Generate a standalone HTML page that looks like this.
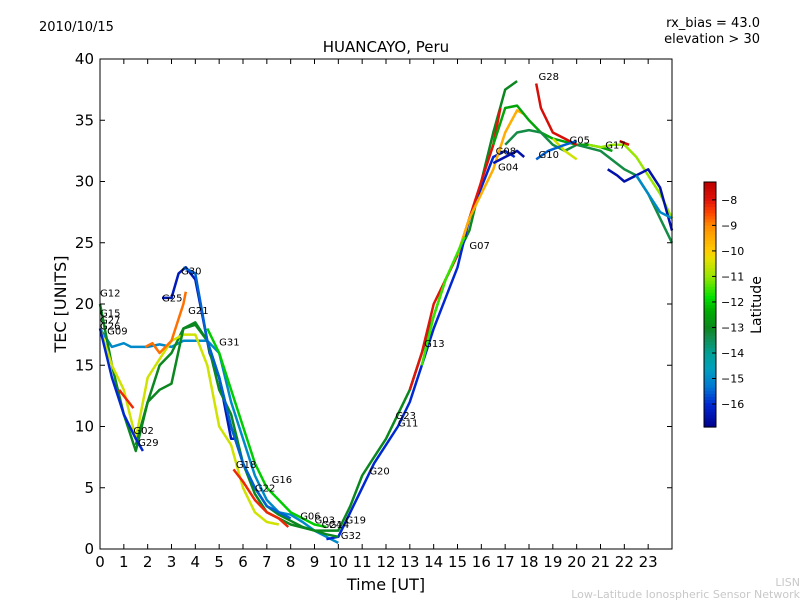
<!DOCTYPE html>
<html><head><meta charset="utf-8">
<style>
html,body{margin:0;padding:0;background:#fff;}
svg text{font-family:"DejaVu Sans","Liberation Sans",sans-serif;}
</style></head>
<body>
<svg id="chart" width="800" height="600" viewBox="0 0 800 600" xmlns="http://www.w3.org/2000/svg">
<rect x="0" y="0" width="800" height="600" fill="#fff"/>
<text x="39" y="31" font-size="13">2010/10/15</text>
<text x="760" y="27" font-size="13" text-anchor="end">rx_bias = 43.0</text>
<text x="760" y="43" font-size="13" text-anchor="end">elevation &gt; 30</text>
<text x="386" y="52" font-size="15" text-anchor="middle">HUANCAYO, Peru</text>
<g id="plot"></g>
<rect x="100" y="59" width="572" height="490" fill="none" stroke="#000" stroke-width="1"/>
<g id="axes"></g>
<text transform="translate(66,304) rotate(-90)" font-size="16" text-anchor="middle">TEC [UNITS]</text>
<text x="386" y="590" font-size="16" text-anchor="middle">Time [UT]</text>
<g id="cbar"></g>
<text transform="translate(761,305) rotate(-90)" font-size="14" text-anchor="middle">Latitude</text>
<text x="800" y="586" font-size="11" fill="#c8c8c8" text-anchor="end">LISN</text>
<text x="800" y="598" font-size="11" fill="#c8c8c8" text-anchor="end">Low-Latitude Ionospheric Sensor Network</text>
</svg>
<script>
const xTicks=[0,1,2,3,4,5,6,7,8,9,10,11,12,13,14,15,16,17,18,19,20,21,22,23];
const yTicks=[0,5,10,15,20,25,30,35,40];
const cbTicks=[-8,-9,-10,-11,-12,-13,-14,-15,-16];
const trackLats=[-15,-13,-16.3,-10.5,-8.2,-16,-8,-9.5,-12.5,-13.3,-7.8,-10.5,-15.5,-16.5,-11,-7.8,-16.5,-15,-13,-11.5,-16,-8.2,-8.8,-15.5,-12];
const trackTimes=[
[0,0.5,1,1.3,1.5,2,2.5,3,3.5,4,4.5,5,5.5,6,6.5,7,7.5,8,8.5,9,9.5,10],
[0,0.5,1,1.5,2,2.5,3,3.5,4,4.5,5,5.5,6,6.5,7,7.5,8,9,10,10.5,11,11.5,12,12.5,13,13.5,14,14.5,15,15.5,16,16.5,17,17.5],
[2.6,3,3.3,3.6,4,4.3,4.6,5,5.3,5.5,5.8],
[0,0.5,1,1.5,2,2.5,3,3.5,4,4.5,5,5.5,6,6.5,7,7.5],
[5.6,6,6.5,7,7.5,7.9],
[9.5,10,10.5,11,11.5,12,12.5,13,13.5,14,14.5,15,15.5,16,16.5,17,17.4],
[13,13.5,14,14.5,15,15.5,16,16.5,16.8],
[15,15.5,16,16.5,17,17.5,17.8],
[16.5,17,17.5,18,18.5,19,20,20.5,21,21.5],
[17,17.5,18,18.5,19,19.5,20,21,22,22.5,23,23.5,24],
[18.3,18.5,19,19.5,20],
[19,19.5,20],
[18.3,18.8,19.5,20],
[16.5,17,17.5,17.8],
[20.5,21,21.5,22,22.5,23,23.5,24],
[21.8,22.2],
[21.3,21.7,22,22.5,23,23.5,24],
[22.5,23,23.5,24],
[1.5,2,2.5,3,3.5,4,4.5,5,5.5,6,6.5,7,7.5,8,8.5,9,9.5,10],
[13.5,14,14.5,15.3],
[0,0.5,1,1.5,1.8],
[0.8,1.2,1.4],
[1.9,2.2,2.5,3,3.5,3.6],
[3.5,4,4.5,5,5.5,6,6.5,7,7.5,8],
[4.5,5,5.5,6,6.5,7,7.5,8,8.5,9,9.5]
];
const trackTec=[
[18,16.5,16.8,16.5,16.5,16.5,16.7,16.5,17,17,17,16,12,9,6,4,3,2.8,2.2,1.5,1,0.5],
[20,15,11,8,12,15,16,18,18.3,17,14,10,7,4.5,3,2.5,2,1.5,1.5,3.5,6,7.5,9,11,13,16,19,22,24,26,30,34,37.5,38.2],
[20.5,20.5,22.5,23,22,19,16,14,11,9,9],
[18,15,13,9,14,15.5,17,17.5,17.5,15,10,8.5,5,3,2.2,2],
[6.5,5.5,4,3,2.5,1.8],
[0.8,1,3,5,7,8.5,10,12,15,18,20.5,23,27,29.5,32,32.5,32],
[13,16,20,22,24,27,30,33,36],
[24,27,29,31,34,35.8,35.5],
[33,36,36.2,35,34,33.5,33,33,32.8,32.5],
[33,34,34.2,34,33,32.5,33,32.5,31,30.5,29,27,25],
[38,36,34,33.5,33],
[33.5,32.5,31.8],
[31.8,32.5,33,33.3],
[31.5,32,32.5,32],
[33,32.8,33,33,32,30.5,29,27],
[33.3,33],
[31,30.5,30,30.5,31,29.5,26],
[30.5,29,27.5,27],
[8.5,12,13,13.5,18,18.5,17,13,11,7,5,3.5,2.8,2.3,1.8,1.5,1.2,1],
[15,19,22,25.5],
[18,14,11,9,8],
[13,12,11.5],
[16.5,16.8,16,17,20,21],
[23,22.5,17,14,10,7,5,3.5,3,2.5],
[18,16,13,10,7,5,4,3,2.5,2,1.8]
];
const labelNames=["G12","G15","G27","G26","G09","G02","G29","G25","G30","G21","G31","G18","G22","G16","G06","G03","G24","G14","G19","G32","G20","G23","G11","G13","G07","G08","G04","G10","G28","G05","G17"];
const labelT=[0,0,0,0,0.3,1.4,1.6,2.6,3.4,3.7,5,5.7,6.5,7.2,8.4,9,9.3,9.6,10.3,10.1,11.3,12.4,12.5,13.6,15.5,16.6,16.7,18.4,18.4,19.7,21.2];
const labelTec=[20.6,19,18.4,17.9,17.5,9.4,8.4,20.2,22.4,19.2,16.6,6.6,4.7,5.4,2.4,2.1,1.7,1.7,2.1,0.8,6.1,10.6,10,16.5,24.5,32.2,30.9,31.9,38.3,33.1,32.7];

const NS='http://www.w3.org/2000/svg';
const X0=100,X1=672,Y0=549,Y1=59;
function xs(t){return X0+t*(X1-X0)/24;}
function ys(v){return Y0-v*(Y0-Y1)/40;}
const LMIN=-16.9,LMAX=-7.3;
const stops=[[-16.9,[0,0,140]],[-16,[0,40,210]],[-15.3,[0,120,210]],[-14.6,[0,160,190]],[-14,[0,160,150]],[-13.3,[20,140,70]],[-13,[10,135,30]],[-12.3,[0,175,0]],[-11.8,[0,225,0]],[-11,[150,230,0]],[-10.3,[230,225,0]],[-10,[255,205,0]],[-9,[255,140,0]],[-8.5,[255,70,0]],[-8,[225,20,10]],[-7.3,[190,0,0]]];
function latColor(l){
 l=Math.max(LMIN,Math.min(LMAX,l));
 for(let i=0;i<stops.length-1;i++){
  const a=stops[i],b=stops[i+1];
  if(l<=b[0]){const f=(l-a[0])/(b[0]-a[0]);
   const c=a[1].map((v,k)=>Math.round(v+(b[1][k]-v)*f));
   return 'rgb('+c.join(',')+')';}
 }
 return 'rgb(190,0,0)';
}
function mk(tag,attrs,parent){const e=document.createElementNS(NS,tag);for(const k in attrs)e.setAttribute(k,attrs[k]);parent.appendChild(e);return e;}

const plot=document.getElementById('plot');
for(let i=0;i<trackTimes.length;i++){
 let d='';
 trackTimes[i].forEach((t,j)=>{d+=(j?'L':'M')+xs(t).toFixed(1)+','+ys(trackTec[i][j]).toFixed(1);});
 const p=mk('path',{d:d,fill:'none',stroke:latColor(trackLats[i]),'stroke-width':2.5,'stroke-linejoin':'round'},plot);
 
 
}
for(let i=0;i<labelNames.length;i++){
 const t=mk('text',{x:xs(labelT[i]),y:ys(labelTec[i]),'font-size':10},plot);
 t.textContent=labelNames[i];
 
 
}
const axes=document.getElementById('axes');
xTicks.forEach(v=>{
 const x=xs(v);
 mk('line',{x1:x,x2:x,y1:Y0,y2:Y0-5,stroke:'#000'},axes);
 mk('line',{x1:x,x2:x,y1:Y1,y2:Y1+5,stroke:'#000'},axes);
 const t=mk('text',{x:x,y:Y0+18,'font-size':15,'text-anchor':'middle'},axes);
 t.textContent=v;
 
 
});
yTicks.forEach(v=>{
 const y=ys(v);
 mk('line',{x1:X0,x2:X0+5,y1:y,y2:y,stroke:'#000'},axes);
 mk('line',{x1:X1,x2:X1-5,y1:y,y2:y,stroke:'#000'},axes);
 const t=mk('text',{x:X0-6,y:y+5,'font-size':15,'text-anchor':'end'},axes);
 t.textContent=v;
 
 
});
const cb=document.getElementById('cbar');
const CX=704,CW=12,CT=182,CB=427;
const n=80;
for(let i=0;i<n;i++){
 const l=LMIN+(i+0.5)/n*(LMAX-LMIN);
 mk('rect',{x:CX,y:CB-(i+1)*(CB-CT)/n,width:CW,height:(CB-CT)/n+0.6,fill:latColor(l)},cb);
}
mk('rect',{x:CX,y:CT,width:CW,height:CB-CT,fill:'none',stroke:'#000'},cb);
cbTicks.forEach(v=>{
 const y=CB-(v-LMIN)/(LMAX-LMIN)*(CB-CT);
 mk('line',{x1:CX+CW-4,x2:CX+CW,y1:y,y2:y,stroke:'#000'},cb);
 const t=mk('text',{x:CX+CW+5,y:y+4,'font-size':11},cb);
 t.textContent='\u2212'+Math.abs(v);
 
 
});
</script>
</body></html>
